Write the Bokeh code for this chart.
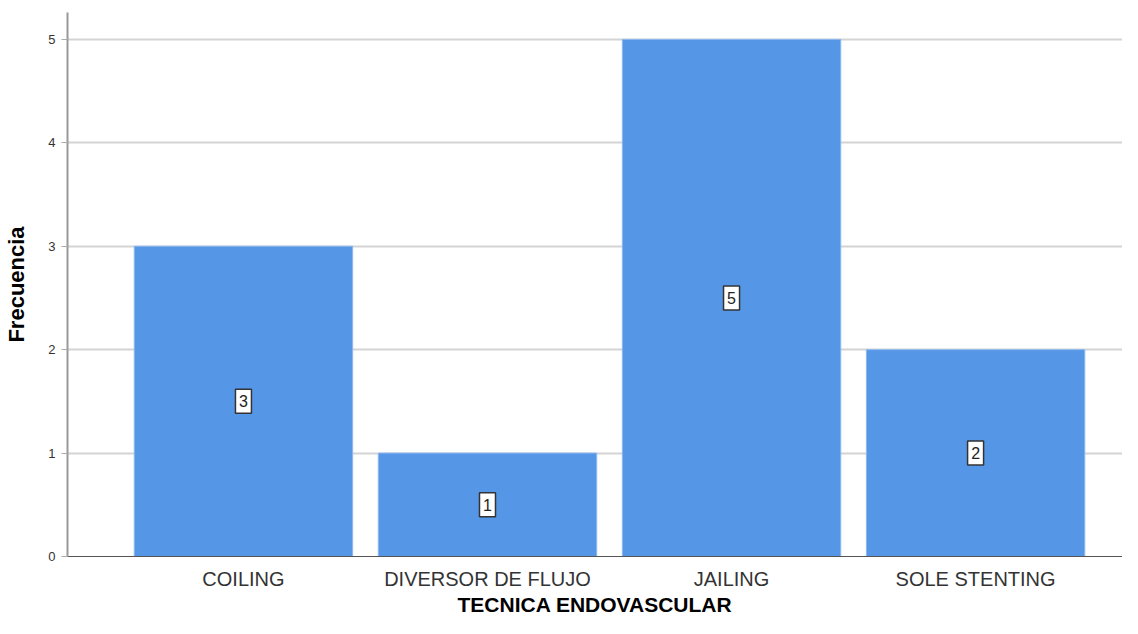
from bokeh.plotting import figure
from bokeh.models import ColumnDataSource, FixedTicker, Range1d
from bokeh.core.properties import value
from bokeh.embed import file_html
from bokeh.resources import INLINE

categories = ["COILING", "DIVERSOR DE FLUJO", "JAILING", "SOLE STENTING"]
counts = [3, 1, 5, 2]
y_ticks = [0, 1, 2, 3, 4, 5]

xs = list(range(len(categories)))
src = ColumnDataSource(dict(
    x=xs,
    top=counts,
    mid=[c / 2 for c in counts],
    lab=[str(c) for c in counts],
))

FONT = "Liberation Sans"

p = figure(width=1122, height=618, output_backend="svg", toolbar_location=None,
           x_range=Range1d(-0.721, 3.602), y_range=Range1d(0, 5.26),
           min_border_left=67, min_border_right=0, min_border_top=12, min_border_bottom=62)
p.outline_line_color = None

p.vbar(x="x", top="top", width=0.895, source=src, fill_color="#5596e6",
       line_color="#8cb8ee", line_width=1)

p.rect(x="x", y="mid", width=16, height=24, width_units="screen", height_units="screen",
       source=src, fill_color="white", line_color="#333333", line_width=1.5)
p.text(x="x", y="mid", text="lab", source=src, text_align="center",
       text_baseline="middle", text_font=value(FONT), text_font_size="16px",
       text_color="#222222")

p.xaxis.ticker = FixedTicker(ticks=xs)
p.xaxis.major_label_overrides = {i: c for i, c in enumerate(categories)}
p.xaxis.major_tick_line_color = None
p.xaxis.minor_tick_line_color = None
p.xaxis.axis_line_color = "#555555"
p.xaxis.major_label_text_font = FONT
p.xaxis.major_label_text_font_size = "20px"
p.xaxis.major_label_text_color = "#333333"
p.xaxis.major_label_standoff = 5
p.xaxis.axis_label = "TECNICA ENDOVASCULAR"
p.xaxis.axis_label_text_font = FONT
p.xaxis.axis_label_text_font_size = "21px"
p.xaxis.axis_label_text_font_style = "bold"
p.xaxis.axis_label_text_color = "#000000"
p.xaxis.axis_label_standoff = 0

p.yaxis.ticker = FixedTicker(ticks=y_ticks)
p.yaxis.minor_tick_line_color = None
p.yaxis.major_tick_out = 6
p.yaxis.major_tick_in = 0
p.yaxis.major_tick_line_color = "#aaaaaa"
p.yaxis.axis_line_color = "#999999"
p.yaxis.axis_line_width = 2
p.yaxis.major_label_text_font = FONT
p.yaxis.major_label_text_font_size = "13px"
p.yaxis.major_label_text_color = "#333333"
p.yaxis.major_label_standoff = 6
p.yaxis.axis_label = "Frecuencia"
p.yaxis.axis_label_text_font = FONT
p.yaxis.axis_label_text_font_size = "22px"
p.yaxis.axis_label_text_font_style = "bold"
p.yaxis.axis_label_text_color = "#000000"
p.yaxis.axis_label_standoff = 16

p.xgrid.grid_line_color = None
p.ygrid.grid_line_color = "#d4d4d4"
p.ygrid.grid_line_width = 2
p.ygrid.level = "underlay"

open("out.html", "w").write(file_html(p, INLINE))
